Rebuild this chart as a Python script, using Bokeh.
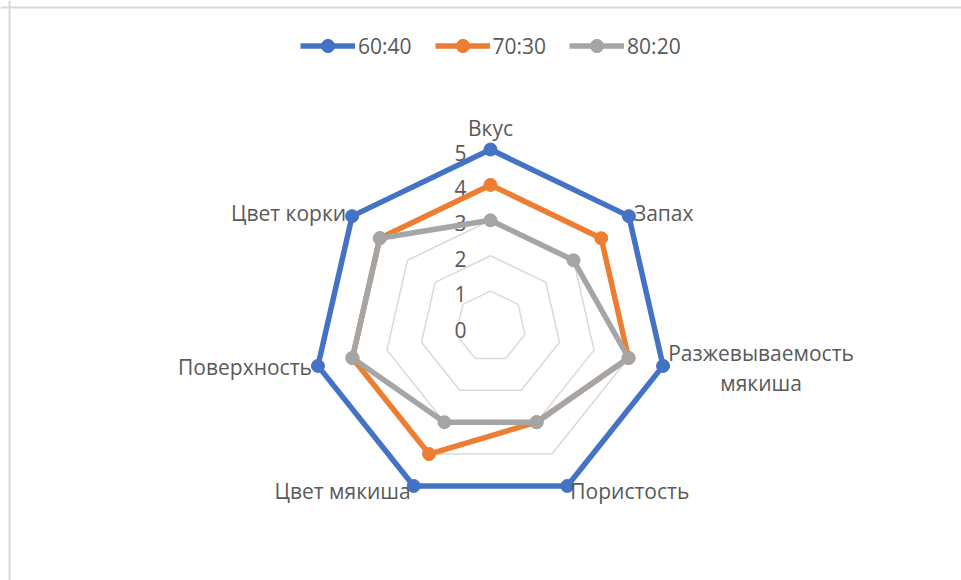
import numpy as np
from bokeh.plotting import figure
from bokeh.models import Range1d, Legend, LegendItem, Span
from bokeh.core.properties import value
from bokeh.embed import file_html
from bokeh.resources import INLINE

# Sensory profile of bread samples by flour ratio
categories = ["Вкус", "Запах", "Разжевываемость\nмякиша", "Пористость",
              "Цвет мякиша", "Поверхность", "Цвет корки"]
series_names = ["60:40", "70:30", "80:20"]
values_60_40 = [5, 5, 5, 5, 5, 5, 5]
values_70_30 = [4, 4, 4, 3, 4, 4, 4]
values_80_20 = [3, 3, 4, 3, 3, 4, 4]
tick_values = [0, 1, 2, 3, 4, 5]
series_colors = ["#4472C4", "#ED7D31", "#A5A5A5"]

W, H = 961, 580
PX = 35.4            # screen pixels per score unit
CX, CY = 490, 326    # radar centre in screen pixels
FONT = "Open Sans"
FONT_SIZE = "21px"
TEXT_COLOR = "#595959"
GRID_COLOR = "#D9D9D9"

p = figure(width=W, height=H, output_backend="svg", toolbar_location=None,
           x_axis_type=None, y_axis_type=None, min_border=0,
           x_range=Range1d(-CX / PX, (W - CX) / PX),
           y_range=Range1d(-(H - CY) / PX, CY / PX))
p.outline_line_color = None
p.xgrid.visible = False
p.ygrid.visible = False
p.background_fill_color = "white"
p.border_fill_color = "white"

n = len(categories)
theta = np.arange(n) * 2 * np.pi / n


def polar(r):
    r = np.asarray(r, dtype=float)
    return r * np.sin(theta), r * np.cos(theta)


def closed(a):
    return list(a) + [a[0]]


# chart-area frame (left and top edges)
p.add_layout(Span(location=(9 - CX) / PX, dimension="height",
                  line_color=GRID_COLOR, line_width=2))
p.add_layout(Span(location=(CY - 7) / PX, dimension="width",
                  line_color=GRID_COLOR, line_width=2))

# grid heptagons
for t in tick_values[1:]:
    gx, gy = polar([t] * n)
    p.line(closed(gx), closed(gy), line_color=GRID_COLOR, line_width=1.5)

# value axis labels
p.text(x=[0] * len(tick_values), y=tick_values, text=[str(t) for t in tick_values],
       text_align="right", text_baseline="middle", x_offset=-24, y_offset=3,
       text_font=value(FONT), text_font_size=FONT_SIZE, text_color=TEXT_COLOR)

# series
legend_items = []
for name, vals, col in zip(series_names, [values_60_40, values_70_30, values_80_20],
                           series_colors):
    sx, sy = polar(vals)
    ln = p.line(closed(sx), closed(sy), line_color=col, line_width=5.5,
                line_join="round")
    mk = p.scatter(list(sx), list(sy), size=13, fill_color=col, line_color=col)
    legend_items.append(LegendItem(label=name, renderers=[ln, mk]))

# category labels around the outer ring: (align, x offset, y offset)
lx, ly = polar([max(tick_values)] * n)
label_style = [
    ("center", 0, -22),
    ("left", 5, -3),
    ("center", 98, 2),
    ("left", 3, 5),
    ("right", -3, 5),
    ("right", -6, 1),
    ("right", -6, -3),
]
for cat, x, y, (align, dx, dy) in zip(categories, lx, ly, label_style):
    p.text(x=[x], y=[y], text=[cat], text_align=align, text_baseline="middle",
           x_offset=dx, y_offset=dy, text_line_height=1.05,
           text_font=value(FONT), text_font_size=FONT_SIZE, text_color=TEXT_COLOR)

legend = Legend(items=legend_items, orientation="horizontal",
                location=(300, H - 62), glyph_width=55, glyph_height=33,
                label_height=20, label_standoff=3, spacing=23, padding=0,
                margin=0, border_line_color=None, background_fill_alpha=0,
                label_text_font=FONT, label_text_font_size=FONT_SIZE,
                label_text_color=TEXT_COLOR)
p.add_layout(legend)

open("out.html", "w").write(file_html(p, INLINE))
